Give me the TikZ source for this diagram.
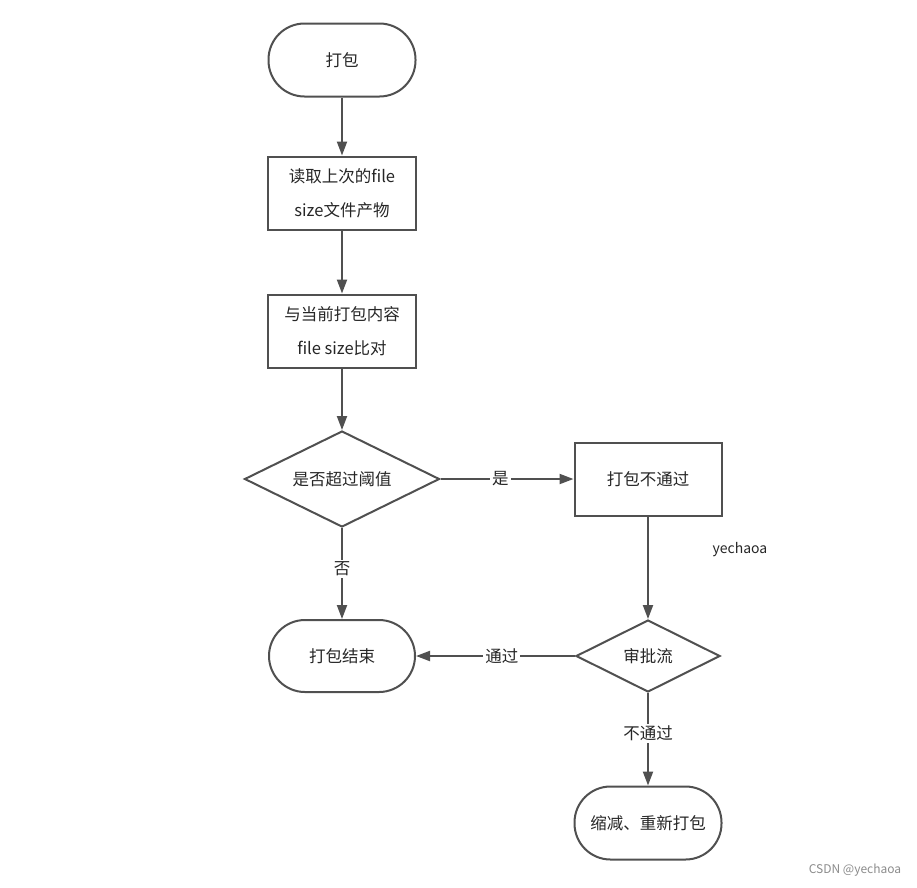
\documentclass[tikz,border=0pt]{standalone}
\usepackage{fontspec}
\setmainfont{Noto Sans CJK SC}
\usetikzlibrary{shapes.geometric,arrows.meta}
\definecolor{ln}{HTML}{505050}
\begin{document}
\begin{tikzpicture}[x=1pt,y=-1pt,
  every node/.style={font=\fontsize{16.5}{34}\selectfont, text=black!85},
  term/.style={draw=ln, line width=2pt, rounded corners=36pt, minimum width=147pt, minimum height=73pt, inner sep=0pt},
  box/.style={draw=ln, line width=2pt, minimum width=148pt, minimum height=73pt, inner sep=0pt, align=center},
  dia/.style={draw=ln, line width=2pt, diamond, shape aspect=2, inner sep=0pt},
  conn/.style={draw=ln, line width=2pt, -{Triangle[length=14pt,width=10pt]}},
  lab/.style={fill=white, inner sep=2pt}]
\path[use as bounding box, fill=white] (0,0) rectangle (917,887);
\node[term] (start) at (342,60) {打包};
\node[box] (read) at (342,193) {读取上次的file\\size文件产物};
\node[box] (cmp) at (342,331) {与当前打包内容\\file size比对};
\node[dia, minimum width=195pt, minimum height=96pt] (d1) at (342,479) {是否超过阈值};
\node[box, minimum width=147pt] (fail) at (648,479) {打包不通过};
\node[dia, minimum width=144pt, minimum height=72pt] (d2) at (648,656) {审批流};
\node[term, minimum width=146pt, minimum height=72pt] (end) at (342,656) {打包结束};
\node[term] (redo) at (648,823) {缩减、重新打包};
\node[font=\fontsize{14}{16}\selectfont] (wm) at (740,550) {yechaoa};
\node[font=\fontsize{12}{14}\selectfont, text=black!45] (csdn) at (855,870) {CSDN @yechaoa};
\draw[conn] (start) -- (read);
\draw[conn] (read) -- (cmp);
\draw[conn] (cmp) -- (d1);
\draw[conn] (d1) -- node[lab, pos=0.45] {是} (fail);
\draw[conn] (d1) -- node[lab, pos=0.45] {否} (end);
\draw[conn] (fail) -- (d2);
\draw[conn] (d2) -- node[lab, pos=0.46] {通过} (end);
\draw[conn] (d2) -- node[lab, pos=0.44] {不通过} (redo);
\end{tikzpicture}
\end{document}
